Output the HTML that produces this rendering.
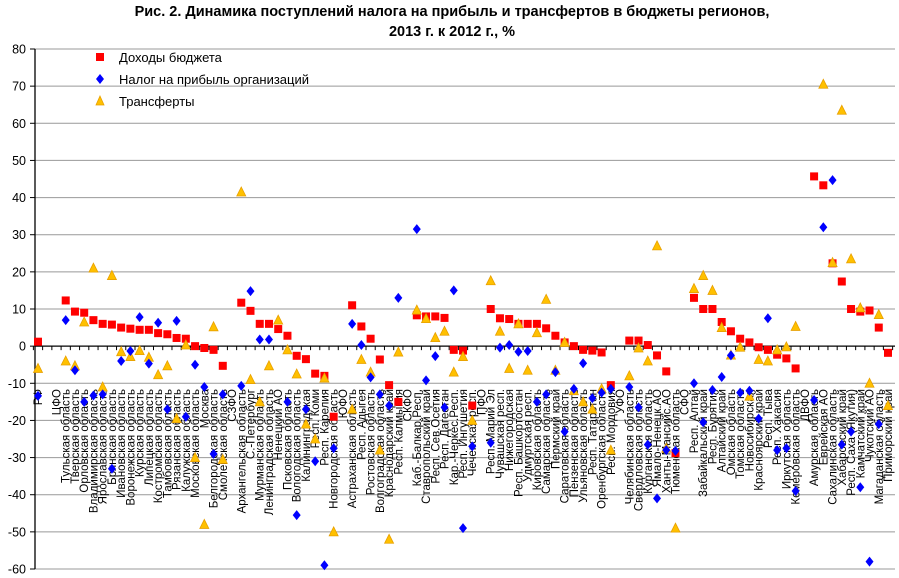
<!DOCTYPE html>
<html><head><meta charset="utf-8">
<style>
html,body{margin:0;padding:0;background:#fff;}
svg{display:block;font-family:"Liberation Sans",sans-serif;}
</style></head>
<body>
<svg id="chart" width="899" height="578" viewBox="0 0 899 578" xmlns="http://www.w3.org/2000/svg">
<text x="452" y="16" text-anchor="middle" font-size="14.5" font-weight="bold">Рис. 2. Динамика поступлений налога на прибыль и трансфертов в бюджеты регионов,</text>
<text x="452" y="36" text-anchor="middle" font-size="14.5" font-weight="bold">2013 г. к 2012 г., %</text>
<g id="grid"></g>
<g id="axes"></g>
<g id="xlabels"></g>
<g id="marks"></g>
<g>
 <rect x="96" y="53" width="8" height="8" fill="#ff0000"/>
 <text x="119" y="62" font-size="13">Доходы бюджета</text>
 <polygon points="100,74 104,79 100,84 96,79" fill="#0000ff"/>
 <text x="119" y="84" font-size="13">Налог на прибыль организаций</text>
 <polygon points="100,96 104,105 96,105" fill="#ffc000" stroke="#e8a000" stroke-width="0.8"/>
 <text x="119" y="106" font-size="13">Трансферты</text>
</g>
</svg>
<script>
const categories = ["РФ","","ЦФО","Тульская область","Тверская область","Орловская область","Владимирская область","Ярославская область","Брянская область","Ивановская область","Воронежская область","Курская область","Липецкая область","Костромская область","Тамбовская область","Рязанская область","Калужская область","Московская область","Москва","Белгородская область","Смоленская область","СЗФО","Архангельская область","С.-Петербург","Мурманская область","Ленинградская область","Ненецкий АО","Псковская область","Вологодская область","Калининградская","Респ. Коми","Респ. Карелия","Новгородская область","ЮФО","Астраханская область","Респ. Адыгея","Ростовская область","Волгоградская область","Краснодарский край","Респ. Калмыкия","СКФО","Каб.-Балкар.Респ.","Ставропольский край","Респ. Сев.Осетия","Респ. Дагестан","Кар.-Черкес.Респ.","Респ. Ингушетия","Чеченская респ.","ПФО","Респ. Марий Эл","Чувашская респ.","Нижегородская","Респ. Башкортостан","Удмуртская респ.","Кировская область","Самарская область","Пермский край","Саратовская область","Пензенская область","Ульяновская область","Респ. Татарстан","Оренбургская область","Респ. Мордовия","УФО","Челябинская область","Свердловская область","Курганская область","Ямало-Ненецк.АО","Ханты-Мансийс.АО","Тюменская область","СФО","Респ. Алтай","Забайкальский край","Респ. Бурятия","Алтайский край","Омская область","Томская область","Новосибирская","Красноярский край","Респ. Тыва","Респ. Хакасия","Иркутская область","Кемеровская область","ДВФО","Амурская область","Еврейская АО","Сахалинская область","Хабаровский край","Респ. Саха (Якутия)","Камчатский край","Чукотский АО","Магаданская область","Приморский край"];
const incomeValues = [1.2,null,null,12.3,9.3,9,7,6,5.8,5,4.7,4.4,4.4,3.5,3.2,2.2,2,0,-0.5,-1,-5.3,null,11.7,9.5,6,6,4.6,2.8,-2.6,-3.5,-7.4,-8,-19,null,11,5.3,2,-3.6,-10.5,-15,null,8.3,8,8,7.6,-1,-1.2,-16,null,10,7.5,7.3,6,6,6,4.8,2.8,1,0,-1,-1.2,-1.7,-10.5,null,1.5,1.5,0.3,-2.5,-6.8,-28.8,null,13,10,10,6.5,4,2,1,-0.3,-1,-2.3,-3.3,-6,null,45.7,43.3,22.3,17.4,10,9.3,9.6,5,-1.8];
const profitTaxValues = [-13.4,null,null,7,-6.5,-15,-13.3,-13,-33,-4,-1.3,7.8,-4.7,6.3,-17,6.8,-19,-5,-11,-29,-13,null,-10.7,14.8,1.8,1.8,null,-15,-45.5,-17,-31,-59,-27.5,null,6,0.3,-8.4,-13,-16,13,null,31.5,-9.2,-2.7,-16.5,15,-49,-27,null,-26,-0.4,0.3,-1.5,-1.3,-15,-13,-7,-23,-11.5,-4.6,-14,-12.5,-11.5,null,-11,-16.5,-26.5,-41,-28,-28.2,null,-10,-20.5,-11.8,-8.3,-2.5,-12.5,-12,-19.5,7.5,-28,-27.5,-39,null,-14.5,32,44.7,-26.5,-23,-38,-58,-21,null];
const transferValues = [-6,null,null,-4,-5.3,6.5,21,-11,19,-1.5,-2.8,-1.2,-3,-7.7,-5.3,-19.5,0.3,-30,-48,5.2,-30.5,null,41.5,-9,-15,-5.3,7,-1,-7.5,-21,-25,-8.6,-50,null,-17,-3.6,-7,-28,-52,-1.6,null,9.7,7.4,2.3,4,-7,-2.8,-20,null,17.6,4,-6,6,-6.5,3.6,12.6,-6.5,1,-12,-15,-17,-11.5,-28,null,-8,-0.5,-4,27,-27.5,-49,null,15.5,19,15,5,-2.4,-0.3,-13.5,-3.6,-4,-1,-0.2,5.3,null,null,70.5,22.5,63.5,23.5,10.3,-10,8.5,-16];
const yTicks = [80,70,60,50,40,30,20,10,0,-10,-20,-30,-40,-50,-60];

const NS="http://www.w3.org/2000/svg";
const plotLeft=35, plotRight=895, yTop=49, yBottom=569, yMax=80, yMin=-60;
const x0=38, step=(888-38)/(categories.length-1);
function yScale(v){return yTop+(yMax-v)*(yBottom-yTop)/(yMax-yMin);}
function xScale(i){return x0+i*step;}
function mk(tag,attrs,parent){const e=document.createElementNS(NS,tag);for(const k in attrs)e.setAttribute(k,attrs[k]);parent.appendChild(e);return e;}
const grid=document.getElementById('grid'),axes=document.getElementById('axes'),xl=document.getElementById('xlabels'),marks=document.getElementById('marks');

yTicks.forEach(t=>{
  const y=yScale(t);
  if(t!==0){const g=mk('line',{x1:plotLeft,x2:plotRight,y1:y,y2:y,stroke:'#999','stroke-width':1},grid);
  
  }
  const tk=mk('line',{x1:plotLeft-5,x2:plotLeft,y1:y,y2:y,stroke:'#000'},axes);
  
  
  const tl=mk('text',{x:plotLeft-9,y:y+4.5,'text-anchor':'end','font-size':12.5},axes);
  tl.textContent=t;
  
  
});
const ya=mk('line',{x1:plotLeft,x2:plotLeft,y1:yTop,y2:yBottom,stroke:'#000','stroke-width':1.3},axes);


const y0=yScale(0);
const xa=mk('line',{x1:plotLeft,x2:plotRight,y1:y0,y2:y0,stroke:'#000','stroke-width':1.3},axes);


for(let i=0;i<=categories.length;i++){
  const x=xScale(i)-step/2;
  const tk=mk('line',{x1:x,x2:x,y1:y0,y2:y0+4,stroke:'#000'},axes);
  
  
}
categories.forEach((c,i)=>{
  if(!c)return;
  const x=xScale(i)+4,y=389;
  const t=mk('text',{x:x,y:y,'text-anchor':'end','font-size':11.5,transform:`rotate(-90 ${x} ${y})`},xl);
  t.textContent=c;
  
  
});
incomeValues.forEach((v,i)=>{
  if(v===null)return;
  const x=xScale(i),y=yScale(v);
  const r=mk('rect',{x:x-4,y:y-4,width:8,height:8,fill:'#ff0000'},marks);
  
  
});
transferValues.forEach((v,i)=>{
  if(v===null)return;
  const x=xScale(i),y=yScale(v);
  const p=mk('polygon',{points:`${x},${y-5} ${x+4.5},${y+4} ${x-4.5},${y+4}`,fill:'#ffc000',stroke:'#e8a000','stroke-width':0.8},marks);
  
  
});
profitTaxValues.forEach((v,i)=>{
  if(v===null)return;
  const x=xScale(i),y=yScale(v);
  const p=mk('polygon',{points:`${x},${y-5} ${x+4},${y} ${x},${y+5} ${x-4},${y}`,fill:'#0000ff'},marks);
  
  
});
</script>
</body></html>
